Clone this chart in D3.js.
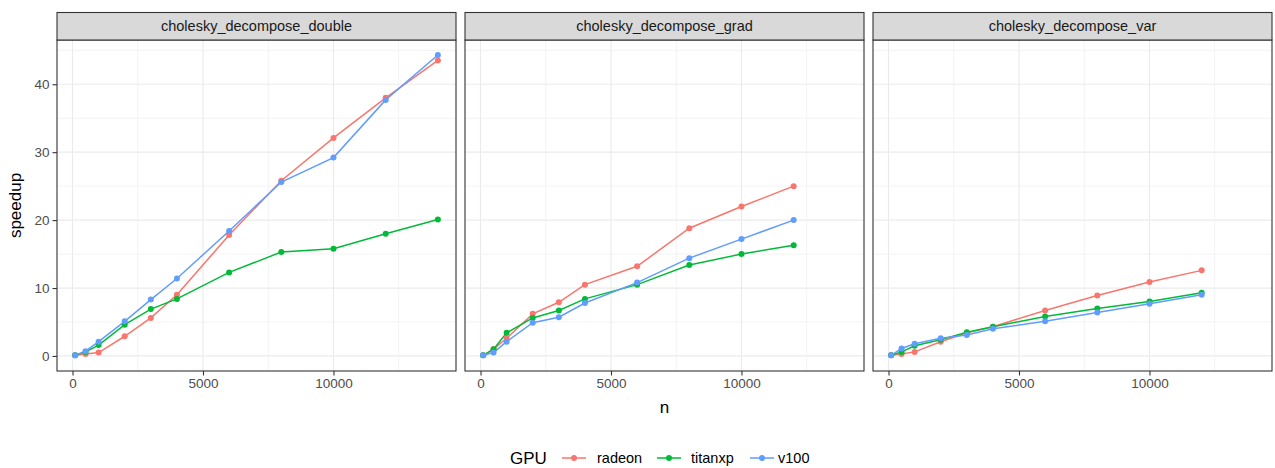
<!DOCTYPE html>
<html><head><meta charset="utf-8">
<script src="https://cdn.jsdelivr.net/npm/d3@7"></script>
<style>body{margin:0;background:#fff;} svg{display:block;font-family:"Liberation Sans",Arial,sans-serif;}</style>
</head><body>
<svg id="chart" width="1275" height="468"></svg>
<script>
const panels = ["cholesky_decompose_double", "cholesky_decompose_grad", "cholesky_decompose_var"];
const gpus = ["radeon", "titanxp", "v100"];
const gpuColors = ["#F8766D", "#00BA38", "#619CFF"];
const nValues = [100, 500, 1000, 2000, 3000, 4000, 6000, 8000, 10000, 12000, 14000];
const xTicks = [0, 5000, 10000];
const xMinor = [2500, 7500, 12500];
const yTicks = [0, 10, 20, 30, 40];
const yMinor = [5, 15, 25, 35, 45];

// speedup values per panel / gpu (same order as nValues)
const doubleRadeon  = [0.1, 0.3, 0.5, 2.9, 5.6, 9.0, 17.8, 25.8, 32.1, 38.0, 43.5];
const doubleTitanxp = [0.1, 0.6, 1.6, 4.6, 6.9, 8.4, 12.3, 15.3, 15.8, 18.0, 20.1];
const doubleV100    = [0.1, 0.7, 2.1, 5.1, 8.3, 11.4, 18.4, 25.6, 29.2, 37.7, 44.3];
const gradRadeon    = [0.1, 1.0, 2.6, 6.2, 7.9, 10.5, 13.2, 18.8, 22.0, 25.0];
const gradTitanxp   = [0.1, 1.0, 3.4, 5.6, 6.7, 8.4, 10.5, 13.4, 15.0, 16.3];
const gradV100      = [0.1, 0.5, 2.1, 4.9, 5.7, 7.8, 10.8, 14.4, 17.2, 20.0];
const varRadeon     = [0.1, 0.3, 0.6, 2.1, 3.4, 4.3, 6.7, 8.9, 10.9, 12.6];
const varTitanxp    = [0.1, 0.6, 1.5, 2.4, 3.5, 4.3, 5.8, 7.0, 8.0, 9.3];
const varV100       = [0.1, 1.1, 1.8, 2.6, 3.1, 4.0, 5.1, 6.4, 7.7, 9.0];

const panelData = [
  [doubleRadeon, doubleTitanxp, doubleV100],
  [gradRadeon, gradTitanxp, gradV100],
  [varRadeon, varTitanxp, varV100]
];

const svg = d3.select("#chart");
const panelLeft = [57, 465, 873];
const panelW = 399;
const stripTop = 12.5, panelTop = 40, panelBottom = 371;
const panelH = panelBottom - panelTop;

const allN = nValues;
const allY = panelData.flat(2);
const xr = [d3.min(allN), d3.max(allN)];
const xpad = (xr[1] - xr[0]) * 0.05;
const yr = [d3.min(allY.concat([0])), d3.max(allY)];
const ypad = (yr[1] - yr[0]) * 0.05;
const x = d3.scaleLinear().domain([xr[0] - xpad, xr[1] + xpad]).range([0, panelW]);
const y = d3.scaleLinear().domain([yr[0] - ypad, yr[1] + ypad]).range([panelH, 0]);

const grey20 = "#333333", grey30 = "#4D4D4D", grid = "#EBEBEB";

panels.forEach((name, pi) => {
  const g = svg.append("g").attr("transform", `translate(${panelLeft[pi]},${panelTop})`);
  g.append("rect").attr("width", panelW).attr("height", panelH).attr("fill", "#fff");
  g.selectAll(".xm").data(xMinor).join("line")
    .attr("x1", d => x(d)).attr("x2", d => x(d)).attr("y1", 0).attr("y2", panelH)
    .attr("stroke", grid).attr("stroke-width", 0.6);
  g.selectAll(".ym").data(yMinor).join("line")
    .attr("y1", d => y(d)).attr("y2", d => y(d)).attr("x1", 0).attr("x2", panelW)
    .attr("stroke", grid).attr("stroke-width", 0.6);
  g.selectAll(".xg").data(xTicks).join("line")
    .attr("x1", d => x(d)).attr("x2", d => x(d)).attr("y1", 0).attr("y2", panelH)
    .attr("stroke", grid).attr("stroke-width", 1.2);
  g.selectAll(".yg").data(yTicks).join("line")
    .attr("y1", d => y(d)).attr("y2", d => y(d)).attr("x1", 0).attr("x2", panelW)
    .attr("stroke", grid).attr("stroke-width", 1.2);

  const series = panelData[pi];
  const line = d3.line().x(d => x(d[0])).y(d => y(d[1]));
  series.forEach((vals, si) => {
    const pts = vals.map((v, i) => [nValues[i], v]);
    g.append("path").datum(pts).attr("d", line)
      .attr("fill", "none").attr("stroke", gpuColors[si]).attr("stroke-width", 1.5);
  });
  series.forEach((vals, si) => {
    const pts = vals.map((v, i) => [nValues[i], v]);
    g.selectAll(null).data(pts).join("circle")
      .attr("cx", d => x(d[0])).attr("cy", d => y(d[1])).attr("r", 3)
      .attr("fill", gpuColors[si]);
  });

  g.append("rect").attr("width", panelW).attr("height", panelH)
    .attr("fill", "none").attr("stroke", grey20).attr("stroke-width", 1.1);

  svg.append("rect").attr("x", panelLeft[pi]).attr("y", stripTop)
    .attr("width", panelW).attr("height", panelTop - stripTop)
    .attr("fill", "#D9D9D9").attr("stroke", grey20).attr("stroke-width", 1.1);
  svg.append("text").attr("x", panelLeft[pi] + panelW / 2).attr("y", (stripTop + panelTop) / 2 + 5)
    .attr("text-anchor", "middle").attr("font-size", 14.5).attr("fill", "#1A1A1A").text(name);

  const xa = svg.append("g").attr("transform", `translate(${panelLeft[pi]},${panelBottom})`)
    .call(d3.axisBottom(x).tickValues(xTicks).tickFormat(d3.format("d")).tickSize(4.5).tickPadding(3));
  xa.select(".domain").remove();
  xa.selectAll("line").attr("stroke", grey20).attr("stroke-width", 1.1);
  xa.selectAll("text").attr("fill", grey30).attr("font-size", 13.5).attr("font-family", "Liberation Sans, Arial, sans-serif");

  if (pi === 0) {
    const ya = svg.append("g").attr("transform", `translate(${panelLeft[pi]},${panelTop})`)
      .call(d3.axisLeft(y).tickValues(yTicks).tickSize(4.5).tickPadding(3));
    ya.select(".domain").remove();
    ya.selectAll("line").attr("stroke", grey20).attr("stroke-width", 1.1);
    ya.selectAll("text").attr("fill", grey30).attr("font-size", 13.5).attr("font-family", "Liberation Sans, Arial, sans-serif");
  }
});

svg.append("text").attr("x", panelLeft[1] + panelW / 2).attr("y", 413)
  .attr("text-anchor", "middle").attr("font-size", 17).attr("fill", "#000").text("n");
svg.append("text").attr("transform", `translate(21,${panelTop + panelH / 2}) rotate(-90)`)
  .attr("text-anchor", "middle").attr("font-size", 17).attr("fill", "#000").text("speedup");

const lg = svg.append("g").attr("transform", "translate(510,458)");
lg.append("text").attr("x", 0).attr("y", 6).attr("font-size", 17).attr("fill", "#000").text("GPU");
const keyX = [52, 147, 240];
const labelX = [87, 181, 268];
gpus.forEach((gname, i) => {
  const kx = keyX[i];
  lg.append("line").attr("x1", kx).attr("x2", kx + 24).attr("y1", 0).attr("y2", 0)
    .attr("stroke", gpuColors[i]).attr("stroke-width", 1.5);
  lg.append("circle").attr("cx", kx + 12).attr("cy", 0).attr("r", 3).attr("fill", gpuColors[i]);
  lg.append("text").attr("x", labelX[i]).attr("y", 5).attr("font-size", 14.5).attr("fill", "#000").text(gname);
});
</script>
</body></html>
